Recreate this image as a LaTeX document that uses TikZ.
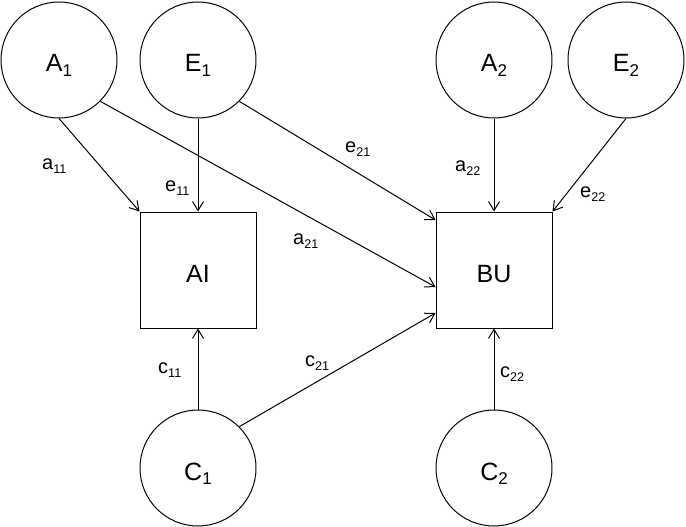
\documentclass[tikz,border=0pt]{standalone}
\usepackage{fontspec}
\setmainfont{Liberation Sans}
\usetikzlibrary{arrows.meta}
\newcommand\mainlbl[2]{{\fontsize{25}{25}\selectfont #1}\raisebox{-4.5pt}{\fontsize{17}{17}\selectfont #2}}
\newcommand\edgelbl[2]{{\fontsize{20}{20}\selectfont #1}\raisebox{-4pt}{\fontsize{12.6}{12.6}\selectfont #2}}
\begin{document}
\begin{tikzpicture}[x=1pt,y=-1pt,
  latent/.style={circle, draw, line width=1pt, minimum size=116pt, inner sep=0pt, text height=24pt, text depth=0pt},
  obs/.style={rectangle, draw, line width=1pt, minimum size=116pt, inner sep=0pt, text height=24pt, text depth=0pt},
  path/.style={draw, line width=1pt, -{Straight Barb[length=9pt,width=11pt]}},
  elbl/.style={anchor=base west, inner sep=0pt}]
\useasboundingbox (0,0) rectangle (686,527);
\node[latent] (A1) at (59,60) {\mainlbl{A}{1}};
\node[latent] (E1) at (198,60) {\mainlbl{E}{1}};
\node[latent] (A2) at (494,60) {\mainlbl{A}{2}};
\node[latent] (E2) at (626,60) {\mainlbl{E}{2}};
\node[obs] (AI) at (198,270) {\fontsize{25}{25}\selectfont AI};
\node[obs] (BU) at (494,270) {\fontsize{25}{25}\selectfont BU};
\node[latent] (C1) at (198,468) {\mainlbl{C}{1}};
\node[latent] (C2) at (494,468) {\mainlbl{C}{2}};

\draw[path] (A1.south) -- (AI.north west);
\draw[path] (A1.-45) -- ([yshift=-17pt]BU.west);
\draw[path] (E1.south) -- (AI.north);
\draw[path] (E1.-45) -- ([yshift=50pt]BU.west);
\draw[path] (A2.south) -- (BU.north);
\draw[path] (E2.south) -- (BU.north east);
\draw[path] (C1.north) -- (AI.south);
\draw[path] (C1.45) -- ([yshift=-43pt]BU.west);
\draw[path] (C2.north) -- (BU.south);

\node[elbl] (la11) at (42,169) {\edgelbl{a}{11}};
\node[elbl] (le11) at (165,191) {\edgelbl{e}{11}};
\node[elbl] (la21) at (293,244) {\edgelbl{a}{21}};
\node[elbl] (le21) at (345,152) {\edgelbl{e}{21}};
\node[elbl] (la22) at (455,171) {\edgelbl{a}{22}};
\node[elbl] (le22) at (580,197) {\edgelbl{e}{22}};
\node[elbl] (lc11) at (158,373) {\edgelbl{c}{11}};
\node[elbl] (lc21) at (305,366) {\edgelbl{c}{21}};
\node[elbl] (lc22) at (500,377) {\edgelbl{c}{22}};
\end{tikzpicture}
\end{document}
